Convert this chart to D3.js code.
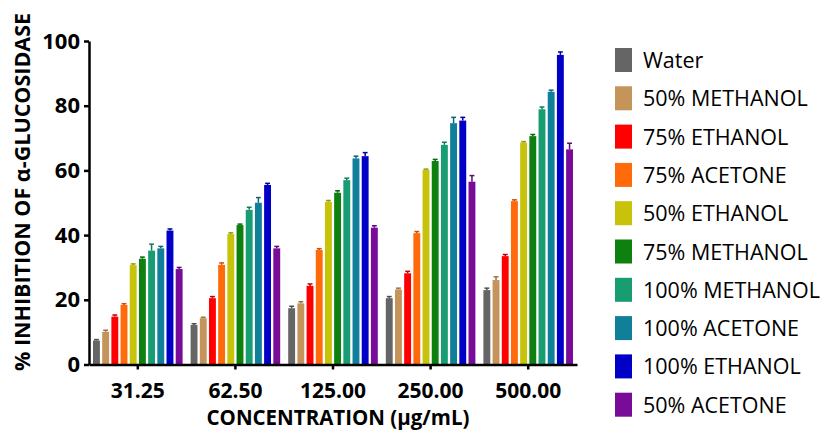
<!DOCTYPE html>
<html>
<head>
<meta charset="utf-8">
<script src="https://cdn.jsdelivr.net/npm/d3@7"></script>
<style>
  body { margin: 0; background: #fff; }
  svg { display: block; font-family: "Open Sans", sans-serif; }
</style>
</head>
<body>
<svg id="chart" width="830" height="442"></svg>
<script>
var concentrations = ["31.25", "62.50", "125.00", "250.00", "500.00"]
var solvents = ["Water", "50% METHANOL", "75% ETHANOL", "75% ACETONE", "50% ETHANOL",
	"75% METHANOL", "100% METHANOL", "100% ACETONE", "100% ETHANOL", "50% ACETONE"]
var colors = ["#656565", "#c4945a", "#fe0000", "#ff6a0a", "#c6c30a",
	"#0d800f", "#189d72", "#10809a", "#0000c6", "#780c99"]

// mean % inhibition per concentration, in solvent order
var conc31 = [7.4, 10.1, 14.8, 18.4, 30.7, 32.7, 35.2, 35.9, 41.4, 29.5]
var conc62 = [12.2, 14.3, 20.5, 30.8, 40.3, 43.1, 47.8, 50.0, 55.5, 35.9]
var conc125 = [17.4, 18.9, 24.3, 35.4, 50.3, 53.1, 57.0, 63.7, 64.4, 42.3]
var conc250 = [20.5, 23.2, 28.2, 40.6, 60.1, 62.9, 67.9, 74.6, 75.4, 56.5]
var conc500 = [23.0, 26.1, 33.5, 50.5, 68.6, 70.6, 78.9, 84.3, 95.7, 66.5]

// error (SD) per concentration
var sd31 = [0.3, 0.5, 0.5, 0.4, 0.4, 0.5, 2.0, 0.6, 0.5, 0.5]
var sd62 = [0.4, 0.3, 0.5, 0.6, 0.4, 0.3, 0.8, 1.6, 0.5, 0.6]
var sd125 = [0.6, 0.5, 0.6, 0.4, 0.4, 0.6, 0.6, 0.7, 1.1, 0.6]
var sd250 = [0.5, 0.4, 0.6, 0.5, 0.3, 0.5, 0.8, 1.8, 1.0, 1.9]
var sd500 = [0.6, 1.0, 0.5, 0.4, 0.3, 0.5, 0.7, 0.5, 0.9, 1.9]

var yTicks = [0, 20, 40, 60, 80, 100]

var means = [conc31, conc62, conc125, conc250, conc500]
var sds = [sd31, sd62, sd125, sd250, sd500]

var data = []
concentrations.forEach(function(c, i) {
	solvents.forEach(function(s, j) {
		data.push({conc: c, solvent: s, value: means[i][j], sd: sds[i][j], color: colors[j]})
	})
})

var svg = d3.select("#chart"),
	margin = {top: 41, left: 89, right: 253, bottom: 77.5},
	width = +svg.attr("width") - margin.left - margin.right,
	height = +svg.attr("height") - margin.top - margin.bottom,
	g = svg.append("g").attr("transform", "translate(" + margin.left + "," + margin.top + ")");

var x0 = d3.scaleBand()
	.domain(concentrations)
	.range([0, width]);

var x1 = d3.scaleBand()
	.domain(solvents)
	.range([4, x0.bandwidth() - 4])
	.paddingInner(0.25);

var y = d3.scaleLinear()
	.domain([0, 100])
	.range([height, 0]);

// bars
g.append("g")
	.selectAll("rect")
	.data(data)
	.enter().append("rect")
		.attr("x", function(d) { return x0(d.conc) + x1(d.solvent); })
		.attr("y", function(d) { return y(d.value); })
		.attr("width", x1.bandwidth())
		.attr("height", function(d) { return y(0) - y(d.value); })
		.attr("fill", function(d) { return d.color; });

// error bars (upper)
var err = g.append("g")
	.selectAll("g")
	.data(data)
	.enter().append("g")
		.attr("stroke", function(d) { return d3.color(d.color).darker(0.7); })
		.attr("stroke-width", 1.5);

err.append("line")
	.attr("x1", function(d) { return x0(d.conc) + x1(d.solvent) + x1.bandwidth() / 2; })
	.attr("x2", function(d) { return x0(d.conc) + x1(d.solvent) + x1.bandwidth() / 2; })
	.attr("y1", function(d) { return y(d.value); })
	.attr("y2", function(d) { return y(d.value + d.sd); });

err.append("line")
	.attr("x1", function(d) { return x0(d.conc) + x1(d.solvent) + 1; })
	.attr("x2", function(d) { return x0(d.conc) + x1(d.solvent) + x1.bandwidth() - 1; })
	.attr("y1", function(d) { return y(d.value + d.sd); })
	.attr("y2", function(d) { return y(d.value + d.sd); });

// axes
var yAxis = d3.axisLeft(y).tickValues(yTicks).tickSize(5).tickSizeOuter(0).tickPadding(4);
var xAxis = d3.axisBottom(x0).tickSize(5).tickSizeOuter(0).tickPadding(14);

var ya = g.append("g")
	.attr("class", "axis y")
	.call(yAxis);

var xa = g.append("g")
	.attr("class", "axis x")
	.attr("transform", "translate(0," + height + ")")
	.call(xAxis);

g.selectAll(".axis path, .axis line")
	.attr("stroke", "#000")
	.attr("stroke-width", 2.5);

g.selectAll(".axis text")
	.attr("fill", "#000")
	.attr("font-family", "'Open Sans', sans-serif")
	.attr("font-weight", "bold");

ya.selectAll("text").attr("font-size", 22);
xa.selectAll("text").attr("font-size", 21);

// axis titles
svg.append("text")
	.attr("x", margin.left + width / 2 + 5)
	.attr("y", 425)
	.attr("text-anchor", "middle")
	.attr("font-weight", "bold")
	.attr("font-size", 20.5)
	.text("CONCENTRATION (µg/mL)");

svg.append("text")
	.attr("transform", "translate(30," + 192 + ") rotate(-90)")
	.attr("text-anchor", "middle")
	.attr("font-weight", "bold")
	.attr("font-size", 21.5)
	.text("% INHIBITION OF α-GLUCOSIDASE");

// legend
var legend = svg.append("g")
	.attr("transform", "translate(615,60)")
	.selectAll("g")
	.data(solvents)
	.enter().append("g")
		.attr("transform", function(d, i) { return "translate(0," + (i * 38.3) + ")"; });

legend.append("rect")
	.attr("x", 0)
	.attr("y", -12)
	.attr("width", 17)
	.attr("height", 24)
	.attr("fill", function(d, i) { return colors[i]; });

legend.append("text")
	.attr("x", 28)
	.attr("y", 8)
	.attr("font-size", 21.5)
	.attr("fill", "#000")
	.text(function(d) { return d; });
</script>
</body>
</html>
